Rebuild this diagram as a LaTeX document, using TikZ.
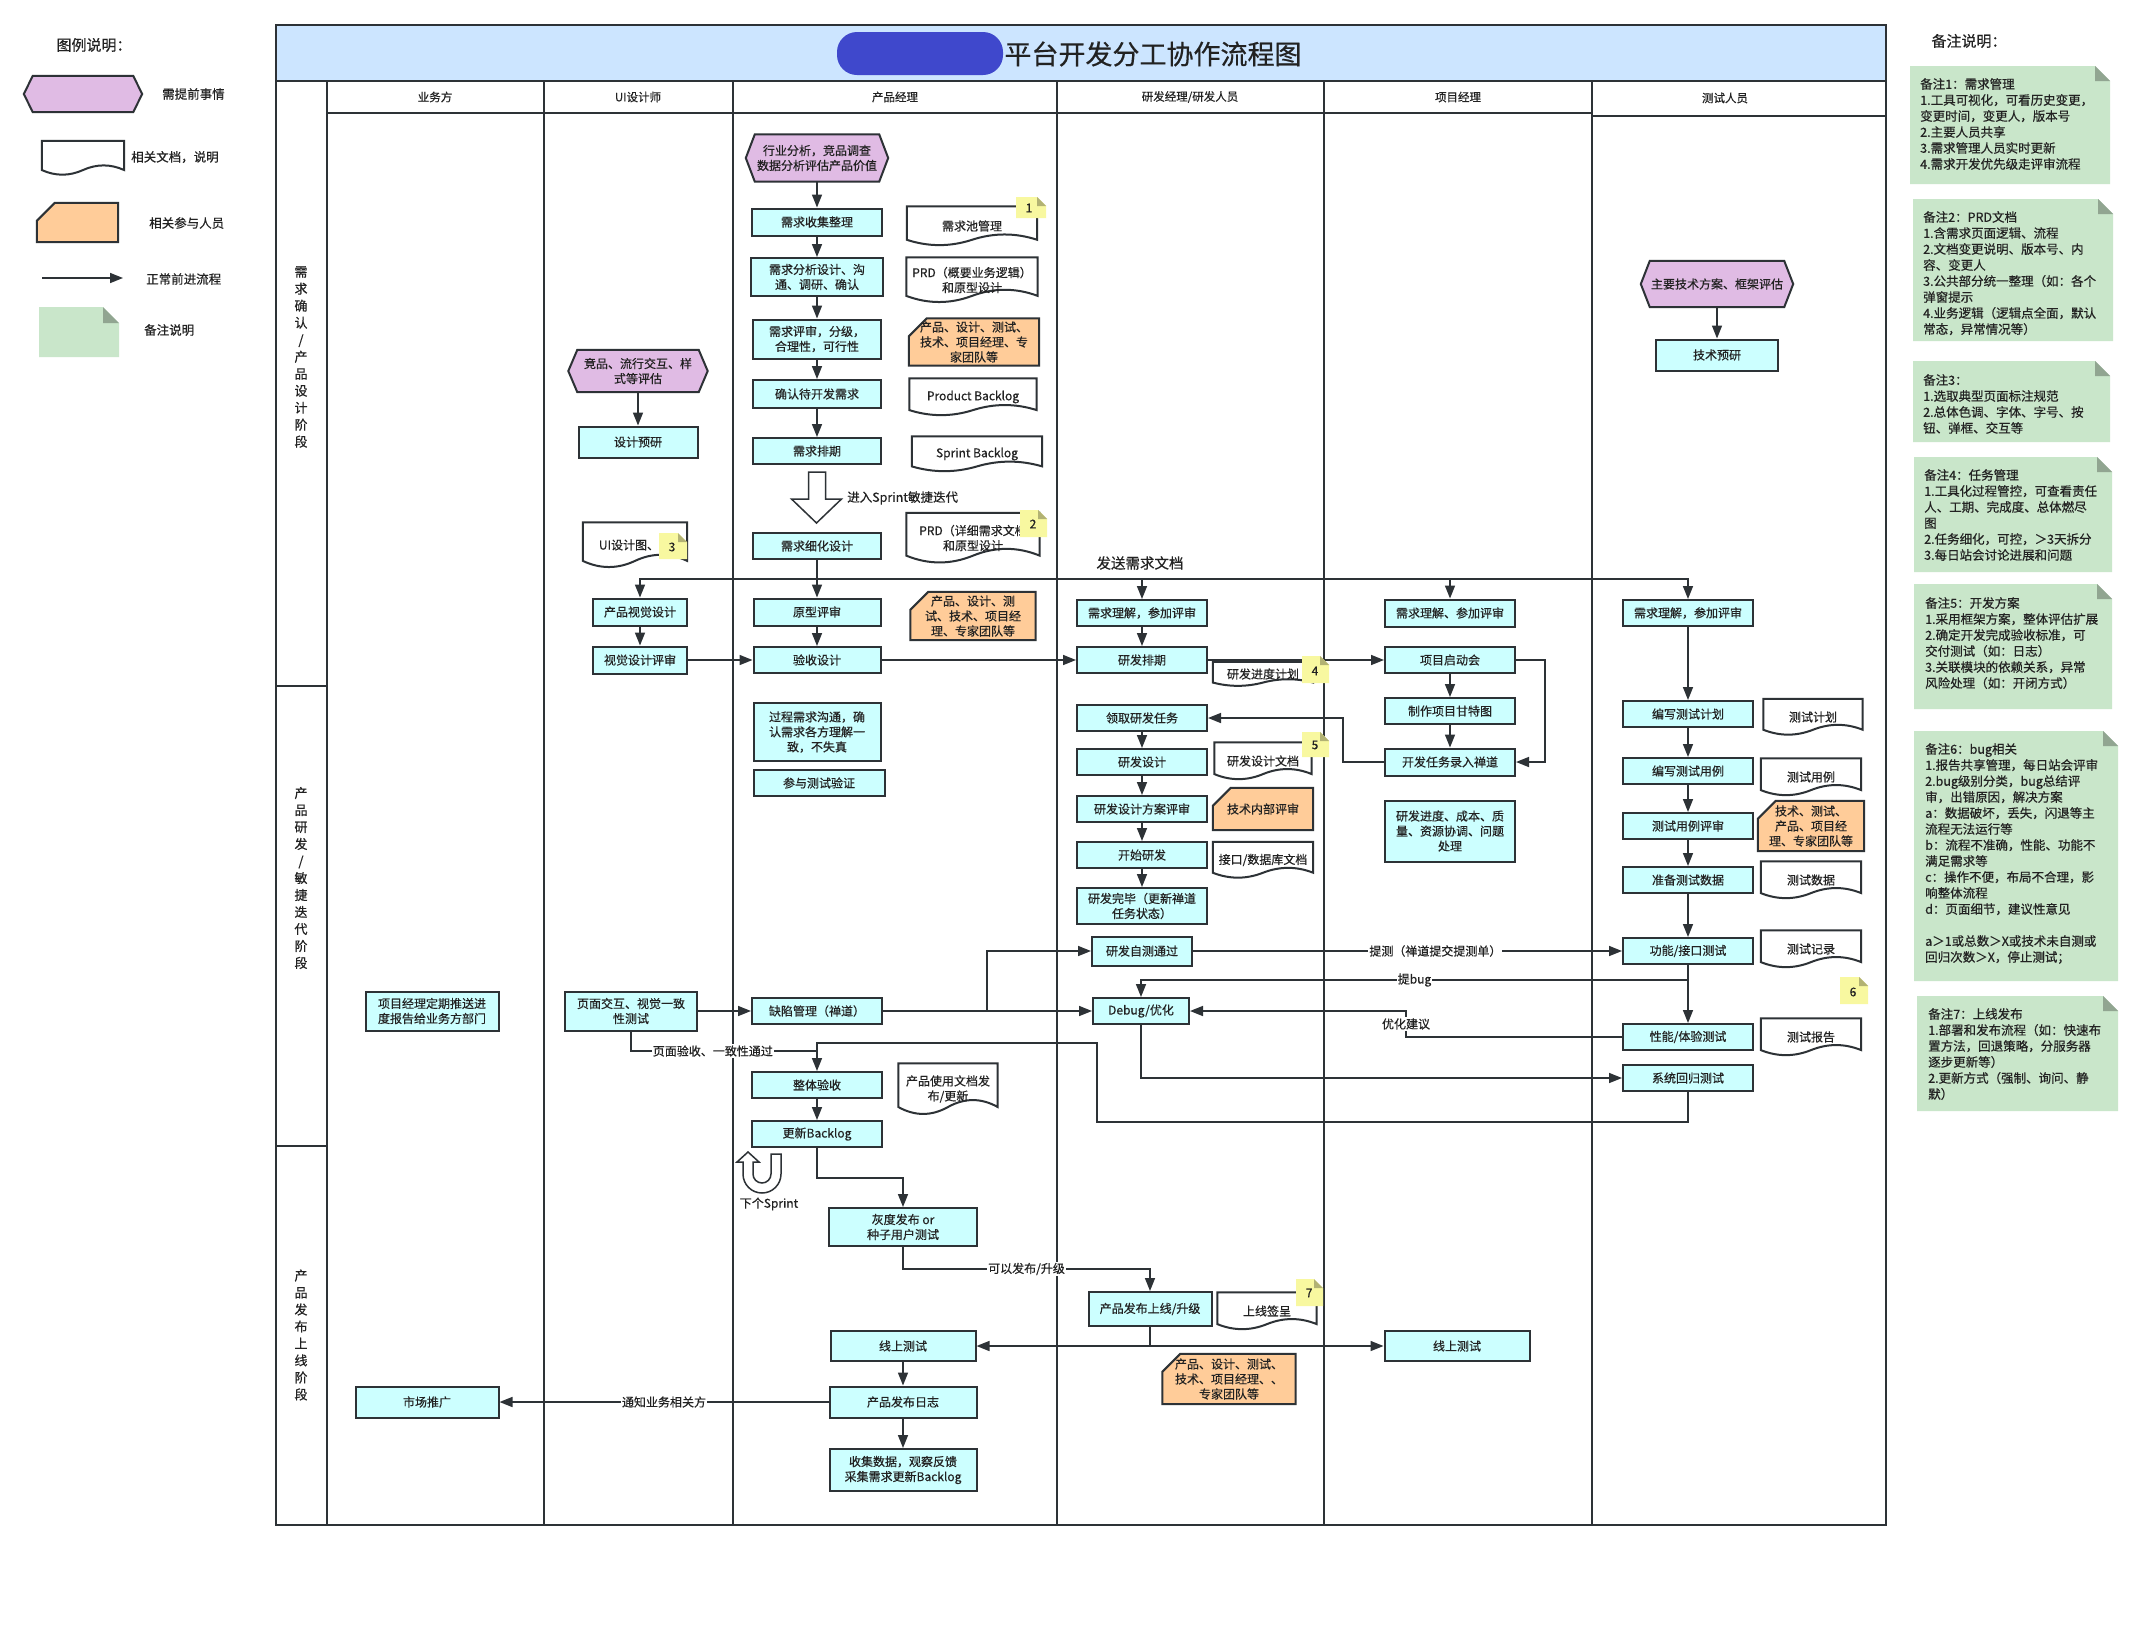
\documentclass[tikz,border=0pt]{standalone}
\usepackage{fontspec}
\setmainfont{Noto Sans CJK SC}[FakeBold=0.5]
\usetikzlibrary{arrows.meta,calc}

\definecolor{lc}{HTML}{2D3236}
\definecolor{txtc}{HTML}{222222}
\definecolor{boxc}{HTML}{CCFFFF}
\definecolor{hexc}{HTML}{E0BBE4}
\definecolor{cardc}{HTML}{FFCC99}
\definecolor{notec}{HTML}{C9E6CA}
\definecolor{yelc}{HTML}{F8F8A0}
\definecolor{titlec}{HTML}{CCE5FF}
\definecolor{blobc}{HTML}{3F48CC}

\newcommand\fsz[2]{\fontsize{#1}{#2}\selectfont}

\pgfdeclarelayer{grid}
\pgfdeclarelayer{shapes}
\pgfsetlayers{grid,shapes,main}

\tikzset{
  every node/.style={text=txtc},
  box/.style={draw=lc, fill=boxc, line width=2pt, align=center, inner sep=1pt, font=\fsz{12}{15}},
  txt/.style={align=center, inner sep=1pt, font=\fsz{12}{15}},
  sz/.style 2 args={minimum width=#1pt, minimum height=#2pt},
  arr/.style={draw=lc, line width=1.6pt, -{Triangle[length=13pt,width=10pt]}},
  dblarr/.style={draw=lc, line width=1.6pt, {Triangle[length=13pt,width=10pt]}-{Triangle[length=13pt,width=10pt]}},
  link/.style={draw=lc, line width=1.6pt},
  lbl/.style={fill=white, inner sep=1pt, font=\fsz{12}{14}},
  shapeline/.style={draw=lc, line width=2pt},
  frame/.style={draw=lc, line width=2.2pt},
  lane/.style={font=\fsz{11.5}{13}},
  stage/.style={align=center, inner sep=0pt, font=\fsz{13}{17}},
  notetxt/.style={align=left, inner sep=0pt, anchor=north west, font=\fsz{12.5}{16}},
  legtxt/.style={anchor=west, inner sep=0pt, font=\fsz{12.5}{15}},
  numtxt/.style={inner sep=0pt, font=\fsz{12}{14}},
}

% elongated hexagon behind a text node
\newcommand\hexframe[1]{\begin{pgfonlayer}{shapes}
  \draw[shapeline,fill=hexc] (#1.west) -- ($(#1.north west)+(9,0)$) -- ($(#1.north east)+(-9,0)$)
    -- (#1.east) -- ($(#1.south east)+(-9,0)$) -- ($(#1.south west)+(9,0)$) -- cycle;
\end{pgfonlayer}}
% card with a cut top-left corner
\newcommand\cardframe[1]{\begin{pgfonlayer}{shapes}
  \draw[shapeline,fill=cardc] ($(#1.north west)+(18,0)$) -- (#1.north east) -- (#1.south east)
    -- (#1.south west) -- ($(#1.north west)+(0,18)$) -- cycle;
\end{pgfonlayer}}
% document with a wavy lower edge
\newcommand\docframe[1]{\begin{pgfonlayer}{shapes}
  \draw[shapeline,fill=white] let \p1=(#1.north west), \p2=(#1.south east),
      \n1={\x2-\x1}, \n2={\y1-\y2} in
    (\x1,\y1) -- (\x2,\y1) -- (\x2,{\y2+0.15*\n2})
    .. controls ({\x1+0.8333*\n1},{\y2+0.33*\n2}) and ({\x1+0.6667*\n1},{\y2+0.33*\n2}) .. ({\x1+0.5*\n1},{\y2+0.15*\n2})
    .. controls ({\x1+0.3333*\n1},{\y2-0.03*\n2}) and ({\x1+0.1667*\n1},{\y2-0.03*\n2}) .. (\x1,{\y2+0.15*\n2}) -- cycle;
\end{pgfonlayer}}
% sticky note with folded corner: x0,y0,x1,y1,fold,colour
\newcommand\foldnote[6]{%
  \fill[#6] (#1,#2) -- ({#3-#5},#2) -- (#3,{#2+#5}) -- (#3,#4) -- (#1,#4) -- cycle;
  \fill[#6!72!black] ({#3-#5},#2) -- (#3,{#2+#5}) -- ({#3-#5},{#2+#5}) -- cycle;}

\begin{document}
\begin{tikzpicture}[x=1pt,y=-1pt]
\useasboundingbox (0,0) rectangle (2144,1631);

% ---------- swimlane grid ----------
\begin{pgfonlayer}{grid}
  \fill[white] (0,0) rectangle (2144,1631);
  \draw[frame,fill=titlec] (276,25) rectangle (1886,81);
  \fill[blobc,rounded corners=20pt] (837,32) rectangle (1003,75);
  \draw[frame] (276,81) -- (276,1525) -- (1886,1525) -- (1886,81);
  \foreach \lx in {327,544,733,1057,1324,1592} \draw[frame] (\lx,81) -- (\lx,1525);
  \draw[frame] (327,113) -- (1592,113);
  \draw[frame] (1592,116) -- (1886,116);
  \draw[frame] (276,686) -- (327,686);
  \draw[frame] (276,1146) -- (327,1146);
\end{pgfonlayer}

\node[inner sep=0pt,font=\fsz{27}{30}] (title) at (1153,54) {平台开发分工协作流程图};

\node[lane] (h1) at (435,97) {业务方};
\node[lane] (h2) at (638,97) {UI设计师};
\node[lane] (h3) at (895,97) {产品经理};
\node[lane] (h4) at (1190,97) {研发经理/研发人员};
\node[lane] (h5) at (1458,97) {项目经理};
\node[lane] (h6) at (1725,98) {测试人员};

\node[stage] (st1) at (301,357) {需\\求\\确\\认\\/\\产\\品\\设\\计\\阶\\段};
\node[stage] (st2) at (301,878) {产\\品\\研\\发\\/\\敏\\捷\\迭\\代\\阶\\段};
\node[stage] (st3) at (301,1335) {产\\品\\发\\布\\上\\线\\阶\\段};

% ---------- legend ----------
\node[inner sep=0pt,font=\fsz{15}{17}] (lgt) at (94,45) {图例说明：};
\node[txt,sz={118}{36}] (lghex) at (83,94) {}; \hexframe{lghex}
\node[legtxt] (lg1) at (162,94) {需提前事情};
\node[txt,sz={82}{34}] (lgdoc) at (83,158) {}; \docframe{lgdoc}
\node[legtxt] (lg2) at (131,157) {相关文档，说明};
\node[txt,sz={81}{39}] (lgcard) at (77.5,222.5) {}; \cardframe{lgcard}
\node[legtxt] (lg3) at (149,223) {相关参与人员};
\coordinate (la1) at (42,278); \coordinate (la2) at (123,278);
\draw[arr] (la1) -- (la2);
\node[legtxt] (lg4) at (146,279) {正常前进流程};
\foldnote{39}{307}{119}{357}{16}{notec}
\node[legtxt] (lg5) at (144,330) {备注说明};

% ---------- 业务方 ----------
\node[box,sz={133}{39}] (biz1) at (432,1011) {项目经理定期推送进\\度报告给业务方部门};
\node[box,sz={143}{31}] (biz2) at (427,1402) {市场推广};

% ---------- UI设计师 ----------
\node[txt,sz={139}{42}] (hexUI) at (638,371) {竞品、流行交互、样\\式等评估}; \hexframe{hexUI}
\node[box,sz={119}{31}] (ui1) at (638,442) {设计预研};
\node[txt,sz={104}{45}] (d7) at (635,545) {UI设计图、规}; \docframe{d7}
\node[box,sz={94}{27}] (ui2) at (640,612) {产品视觉设计};
\node[box,sz={94}{27}] (ui3) at (640,660) {视觉设计评审};
\node[box,sz={132}{39}] (ui4) at (631,1011) {页面交互、视觉一致\\性测试};

% ---------- 产品经理 ----------
\node[txt,sz={142}{47}] (hexA) at (817,158) {行业分析，竞品调查\\数据分析评估产品价值}; \hexframe{hexA}
\node[box,sz={130}{27}] (pm1) at (817,222) {需求收集整理};
\node[box,sz={132}{38}] (pm2) at (817,277) {需求分析设计、沟\\通、调研、确认};
\node[box,sz={128}{39}] (pm3) at (817,339) {需求评审，分级，\\合理性，可行性};
\node[box,sz={128}{28}] (pm4) at (817,394) {确认待开发需求};
\node[box,sz={128}{26}] (pm5) at (817,451) {需求排期};
\node[box,sz={128}{26}] (pm6) at (817,546) {需求细化设计};
\node[box,sz={127}{27}] (pm7) at (817,612) {原型评审};
\node[box,sz={127}{26}] (pm8) at (817,660) {验收设计};
\node[box,sz={127}{58}] (pm9) at (817,732) {过程需求沟通，确\\认需求各方理解一\\致，不失真};
\node[box,sz={131}{26}] (pm10) at (819,783) {参与测试验证};
\node[box,sz={130}{26}] (pm11) at (817,1011) {缺陷管理（禅道）};
\node[box,sz={130}{26}] (pm12) at (817,1085) {整体验收};
\node[box,sz={130}{26}] (pm13) at (817,1134) {更新Backlog};
\node[box,sz={148}{38}] (pm14) at (903,1227) {灰度发布 or\\种子用户测试};
\node[box,sz={145}{30}] (pm15) at (903,1346) {线上测试};
\node[box,sz={147}{31}] (pm16) at (903,1402) {产品发布日志};
\node[box,sz={147}{42}] (pm17) at (903,1470) {收集数据，观察反馈\\采集需求更新Backlog};

\node[txt,sz={130}{39}] (d1) at (972,226) {需求池管理}; \docframe{d1}
\node[txt,sz={131}{45}] (d2) at (972,280) {PRD（概要业务逻辑）\\和原型设计}; \docframe{d2}
\node[txt,sz={130}{47}] (o1) at (974,342) {产品、设计、测试、\\技术、项目经理、专\\家团队等}; \cardframe{o1}
\node[txt,sz={127}{37}] (d3) at (973,397) {Product Backlog}; \docframe{d3}
\node[txt,sz={130}{35}] (d4) at (977,454) {Sprint Backlog}; \docframe{d4}
\node[txt,sz={133}{50}] (d5) at (973,538) {PRD（详细需求文档\\和原型设计}; \docframe{d5}
\node[txt,sz={125}{48}] (o2) at (973,616) {产品、设计、测\\试、技术、项目经\\理、专家团队等}; \cardframe{o2}
\node[txt,sz={99}{51}] (d6) at (948,1089) {产品使用文档发\\布/更新}; \docframe{d6}

% ---------- 研发 ----------
\node[box,sz={130}{26}] (dv1) at (1142,613) {需求理解，参加评审};
\node[box,sz={130}{26}] (dv2) at (1142,660) {研发排期};
\node[box,sz={130}{26}] (dv3) at (1142,718) {领取研发任务};
\node[box,sz={130}{26}] (dv4) at (1142,762) {研发设计};
\node[box,sz={130}{26}] (dv5) at (1142,809) {研发设计方案评审};
\node[box,sz={130}{26}] (dv6) at (1142,855) {开始研发};
\node[box,sz={130}{36}] (dv7) at (1142,906) {研发完毕（更新禅道\\任务状态）};
\node[box,sz={100}{29}] (dv8) at (1142,951) {研发自测通过};
\node[box,sz={96}{26}] (dv9) at (1141,1011) {Debug/优化};
\node[box,sz={123}{34}] (dv10) at (1150,1309) {产品发布上线/升级};

\node[txt,sz={100}{24}] (d8) at (1263,674) {研发进度计划}; \docframe{d8}
\node[txt,sz={97}{37}] (d9) at (1263,761) {研发设计文档}; \docframe{d9}
\node[txt,sz={100}{42}] (o3) at (1263,809) {技术内部评审}; \cardframe{o3}
\node[txt,sz={100}{36}] (d10) at (1263,860) {接口/数据库文档}; \docframe{d10}
\node[txt,sz={99}{37}] (d11) at (1267,1311) {上线签呈}; \docframe{d11}
\node[txt,sz={133}{50}] (o4) at (1229,1379) {产品、设计、测试、\\技术、项目经理、、\\专家团队等}; \cardframe{o4}

% ---------- 项目经理 ----------
\node[box,sz={130}{27}] (pj1) at (1450,613) {需求理解、参加评审};
\node[box,sz={130}{26}] (pj2) at (1450,660) {项目启动会};
\node[box,sz={130}{26}] (pj3) at (1450,711) {制作项目甘特图};
\node[box,sz={130}{27}] (pj4) at (1450,762) {开发任务录入禅道};
\node[box,sz={130}{61}] (pj5) at (1450,831) {研发进度、成本、质\\量、资源协调、问题\\处理};
\node[box,sz={145}{30}] (pj6) at (1457,1346) {线上测试};

% ---------- 测试人员 ----------
\node[txt,sz={152}{46}] (tsHex) at (1717,284) {主要技术方案、框架评估}; \hexframe{tsHex}
\node[box,sz={122}{31}] (ts0) at (1717,355) {技术预研};
\node[box,sz={130}{26}] (ts1) at (1688,613) {需求理解，参加评审};
\node[box,sz={130}{26}] (ts2) at (1688,714) {编写测试计划};
\node[box,sz={130}{26}] (ts3) at (1688,771) {编写测试用例};
\node[box,sz={130}{26}] (ts4) at (1688,826) {测试用例评审};
\node[box,sz={130}{26}] (ts5) at (1688,880) {准备测试数据};
\node[box,sz={130}{26}] (ts6) at (1688,951) {功能/接口测试};
\node[box,sz={130}{26}] (ts7) at (1688,1037) {性能/体验测试};
\node[box,sz={130}{26}] (ts8) at (1688,1078) {系统回归测试};

\node[txt,sz={99}{36}] (d12) at (1813,717) {测试计划}; \docframe{d12}
\node[txt,sz={100}{37}] (d13) at (1811,777) {测试用例}; \docframe{d13}
\node[txt,sz={106}{50}] (o5) at (1811,826) {技术、测试、\\产品、项目经\\理、专家团队等}; \cardframe{o5}
\node[txt,sz={100}{37}] (d14) at (1811,880) {测试数据}; \docframe{d14}
\node[txt,sz={100}{37}] (d15) at (1811,949) {测试记录}; \docframe{d15}
\node[txt,sz={100}{37}] (d16) at (1811,1037) {测试报告}; \docframe{d16}

% ---------- connectors ----------
\draw[arr] (hexA) -- (pm1);
\draw[arr] (pm1) -- (pm2);
\draw[arr] (pm2) -- (pm3);
\draw[arr] (pm3) -- (pm4);
\draw[arr] (pm4) -- (pm5);
\draw[link,fill=white,line width=1.5pt] ($(pm5.south)+(-8.5,7)$) -- ++(17,0) -- ++(0,27) -- ++(16,0)
  -- ++(-25,24) -- ++(-25,-24) -- ++(17,0) -- cycle;
\node[anchor=west,inner sep=0pt,font=\fsz{12.5}{14}] (sprintlbl) at (847,498) {进入Sprint敏捷迭代};

\draw[arr] (pm6) -- (pm7);
\draw[arr] (pm7) -- (pm8);
\coordinate (j1) at (817,579);
\draw[arr] (j1) -| (ui2.north);
\draw[arr] (j1) -| (dv1.north);
\draw[arr] (j1) -| (pj1.north);
\draw[arr] (j1) -| (ts1.north);
\node[inner sep=0pt,font=\fsz{14.5}{16}] (sendlbl) at (1140,563) {发送需求文档};

\draw[arr] (hexUI) -- (ui1);
\draw[arr] (ui2) -- (ui3);
\draw[arr] (ui3) -- (pm8);
\draw[arr] (pm8) -- (dv2);
\draw[arr] (dv1) -- (dv2);
\draw[arr] (dv2) -- (pj2);
\draw[arr] (pj2) -- (pj3);
\draw[arr] (pj3) -- (pj4);
\draw[arr] (pj2.east) -- ++(29,0) |- (pj4.east);
\draw[arr] (pj4.west) -- ++(-41,0) |- (dv3.east);
\draw[arr] (dv3) -- (dv4);
\draw[arr] (dv4) -- (dv5);
\draw[arr] (dv5) -- (dv6);
\draw[arr] (dv6) -- (dv7);

\draw[arr] (tsHex) -- (ts0);
\draw[arr] (ts1) -- (ts2);
\draw[arr] (ts2) -- (ts3);
\draw[arr] (ts3) -- (ts4);
\draw[arr] (ts4) -- (ts5);
\draw[arr] (ts5) -- (ts6);
\draw[arr] (ts6) -- (ts7);

\draw[arr] (dv8) -- node[lbl,pos=0.565] {提测（禅道提交提测单）} (ts6);
\coordinate (jb) at (1688,980);
\draw[arr] (jb) -| node[lbl,pos=0.25] {提bug} (dv9.north);
\draw[arr] (ts7.west) -- (1406,1037) -- node[lbl] {优化建议} (1406,1011) -- (dv9.east);

\draw[arr] (ui4) -- (pm11);
\draw[arr] (pm11) -- (dv9);
\draw[arr] (pm11.east) -- (987,1011) |- (dv8.west);
\draw[arr] (dv9.south) |- (ts8.west);
\draw[arr] (ts8.south) -- ++(0,30) -| (1097,1043) -| (pm12.north);
\draw[link] (ui4.south) |- node[lbl,pos=0.72] {页面验收、一致性通过} (817,1051);

\draw[arr] (pm12) -- (pm13);
\draw[arr] (pm13.south) -- ++(0,30) -| (pm14.north);
\draw[link,fill=white,line width=1.5pt] (781,1154) -- (781,1174) arc[start angle=0,end angle=180,radius=19]
  -- (743,1162) -- (737,1162) -- (748,1152) -- (759,1162) -- (753,1162) -- (753,1174)
  arc[start angle=180,end angle=0,radius=9] -- (771,1154) -- cycle;
\node[inner sep=0pt,font=\fsz{12}{14}] (nextlbl) at (769,1204) {下个Sprint};

\draw[arr] (pm14.south) -- ++(0,22) -| node[lbl,pos=0.25] {可以发布/升级} (dv10.north);
\draw[link] (dv10.south) -- (dv10.south |- pm15.east);
\draw[dblarr] (pm15.east) -- (pj6.west);
\draw[arr] (pm15) -- (pm16);
\draw[arr] (pm16) -- (pm17);
\draw[arr] (pm16) -- node[lbl] {通知业务相关方} (biz2);

% ---------- numbered markers ----------
\foldnote{1016}{197}{1046}{218}{9}{yelc}  \node[numtxt] (m1) at (1029,208) {1};
\foldnote{1020}{510}{1047}{537}{9}{yelc}  \node[numtxt] (m2) at (1033,524) {2};
\foldnote{659}{533}{687}{559}{9}{yelc}    \node[numtxt] (m3) at (672,547) {3};
\foldnote{1302}{656}{1329}{683}{9}{yelc}  \node[numtxt] (m4) at (1315,671) {4};
\foldnote{1302}{732}{1329}{757}{9}{yelc}  \node[numtxt] (m5) at (1315,745) {5};
\foldnote{1840}{977}{1868}{1004}{9}{yelc} \node[numtxt] (m6) at (1853,992) {6};
\foldnote{1296}{1279}{1323}{1306}{9}{yelc} \node[numtxt] (m7) at (1309,1293) {7};

% ---------- remarks column ----------
\node[inner sep=0pt,font=\fsz{15}{17}] (rmt) at (1969,41) {备注说明：};
\foldnote{1910}{66}{2110}{184}{15}{notec}
\node[notetxt] (n1) at (1920,78) {备注1：需求管理\\1.工具可视化，可看历史变更，\\变更时间，变更人，版本号\\2.主要人员共享\\3.需求管理人员实时更新\\4.需求开发优先级走评审流程};
\foldnote{1913}{199}{2113}{341}{15}{notec}
\node[notetxt] (n2) at (1923,211) {备注2：PRD文档\\1.含需求页面逻辑、流程\\2.文档变更说明、版本号、内\\容、变更人\\3.公共部分统一整理（如：各个\\弹窗提示\\4.业务逻辑（逻辑点全面，默认\\常态，异常情况等）};
\foldnote{1913}{361}{2110}{442}{15}{notec}
\node[notetxt] (n3) at (1923,374) {备注3：\\1.选取典型页面标注规范\\2.总体色调、字体、字号、按\\钮、弹框、交互等};
\foldnote{1914}{457}{2112}{572}{15}{notec}
\node[notetxt] (n4) at (1924,469) {备注4：任务管理\\1.工具化过程管控，可查看责任\\人、工期、完成度、总体燃尽\\图\\2.任务细化，可控，＞3天拆分\\3.每日站会讨论进展和问题};
\foldnote{1914}{584}{2112}{709}{15}{notec}
\node[notetxt] (n5) at (1925,597) {备注5：开发方案\\1.采用框架方案，整体评估扩展\\2.确定开发完成验收标准，可\\交付测试（如：日志）\\3.关联模块的依赖关系，异常\\风险处理（如：开闭方式）};
\foldnote{1914}{731}{2118}{981}{15}{notec}
\node[notetxt] (n6) at (1925,743) {备注6：bug相关\\1.报告共享管理，每日站会评审\\2.bug级别分类，bug总结评\\审，出错原因，解决方案\\a：数据破坏，丢失，闪退等主\\流程无法运行等\\b：流程不准确，性能、功能不\\满足需求等\\c：操作不便，布局不合理，影\\响整体流程\\d：页面细节，建议性意见\\[16pt]a＞1或总数＞X或技术未自测或\\回归次数＞X，停止测试；};
\foldnote{1917}{996}{2118}{1111}{15}{notec}
\node[notetxt] (n7) at (1928,1008) {备注7：上线发布\\1.部署和发布流程（如：快速布\\置方法，回退策略，分服务器\\逐步更新等）\\2.更新方式（强制、询问、静\\默）};

\end{tikzpicture}
\end{document}
